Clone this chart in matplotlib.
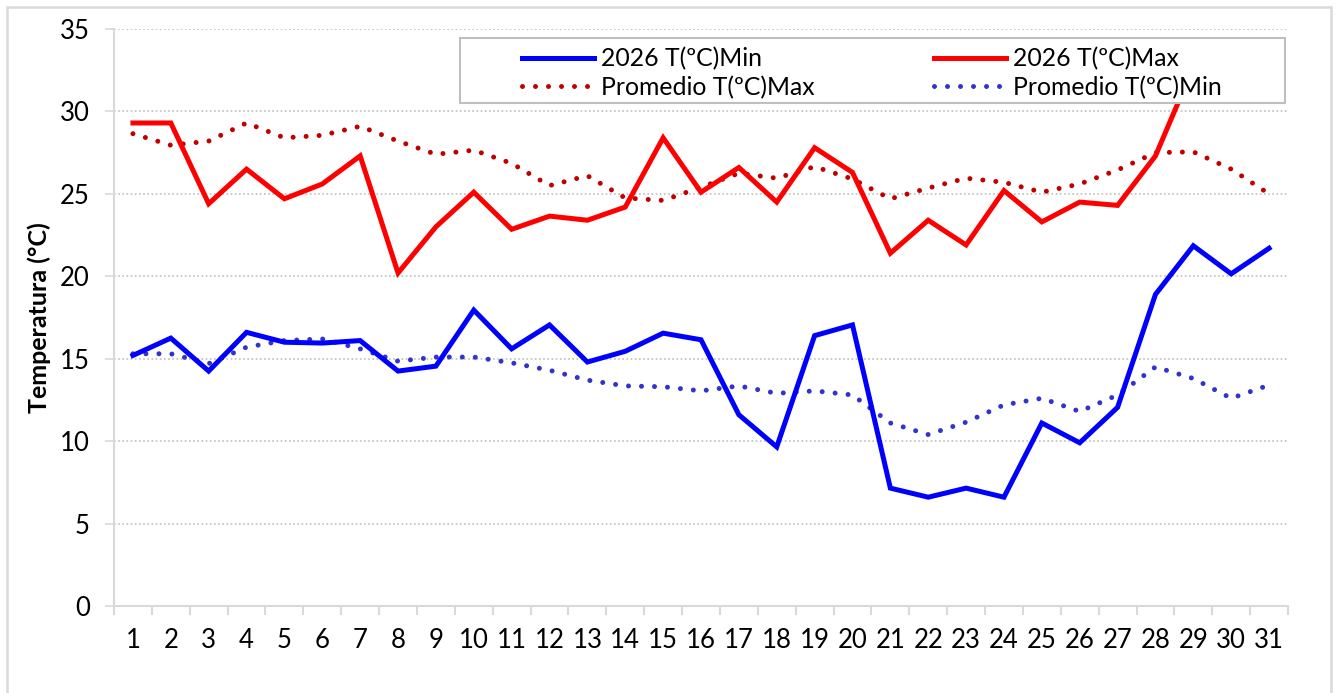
"""
Temperaturas diarias del mes: 2026 vs promedio historico.
Lineas min/max del año y promedios punteados.
"""
import matplotlib
matplotlib.use('Agg')
import matplotlib.pyplot as plt
from matplotlib.patches import Rectangle
from matplotlib.ticker import FixedLocator, NullFormatter

plt.rcParams['font.family'] = ['Lato', 'DejaVu Sans']

# datos
dias = list(range(1, 32))
tmin_2026 = [15.2, 16.25, 14.25, 16.6, 16.0, 15.95, 16.1, 14.25, 14.55, 17.95,
             15.6, 17.05, 14.8, 15.45, 16.55, 16.15, 11.6, 9.65, 16.4, 17.05,
             7.15, 6.6, 7.15, 6.6, 11.1, 9.9, 12.05, 18.9, 21.85, 20.15, 21.7]
tmax_2026 = [29.3, 29.3, 24.4, 26.5, 24.7, 25.6, 27.3, 20.2, 23.0, 25.1,
             22.85, 23.65, 23.4, 24.2, 28.4, 25.1, 26.6, 24.5, 27.8, 26.3,
             21.4, 23.4, 21.9, 25.2, 23.3, 24.5, 24.3, 27.3, 32.7, 32.0, 31.6]
prom_max = [28.65, 27.95, 28.2, 29.3, 28.4, 28.55, 29.1, 28.2, 27.4, 27.65,
            26.85, 25.5, 26.1, 24.75, 24.6, 25.4, 26.25, 25.95, 26.65, 25.9,
            24.7, 25.35, 25.95, 25.7, 25.1, 25.6, 26.45, 27.5, 27.55, 26.5, 25.0]
prom_min = [15.3, 15.3, 14.7, 15.7, 16.1, 16.2, 15.6, 14.85, 15.1, 15.1,
            14.75, 14.3, 13.7, 13.35, 13.3, 13.05, 13.35, 12.9, 13.05, 12.8,
            11.1, 10.4, 11.15, 12.2, 12.6, 11.8, 12.8, 14.5, 13.8, 12.6, 13.4]

GRIS = '#D9D9D9'
FS_TICK = 18.5
FS_LEG = 17.8

fig = plt.figure(figsize=(13.38, 6.93), dpi=100)
ax = fig.add_axes([114/1338, 1-606/693, (1288-114)/1338, (606-29)/693])

dots = (0, (0.001, 2.6))
l_min, = ax.plot(dias, tmin_2026, color='#0000FF', lw=3.6,
                 solid_joinstyle='miter', label='2026 T(ºC)Min', zorder=3)
l_max, = ax.plot(dias, tmax_2026, color='#FF0000', lw=3.6,
                 solid_joinstyle='miter', label='2026 T(ºC)Max', zorder=3)
l_pmax, = ax.plot(dias, prom_max, color='#C00000', lw=3.6, linestyle=dots,
                  dash_capstyle='round', label='Promedio T(ºC)Max', zorder=2)
l_pmin, = ax.plot(dias, prom_min, color='#3333CC', lw=3.6, linestyle=dots,
                  dash_capstyle='round', label='Promedio T(ºC)Min', zorder=2)

# ejes
ax.set_xlim(0.5, 31.5)
ax.set_ylim(0, 35)
ax.set_yticks(range(0, 36, 5))
ax.set_xticks(dias)
ax.xaxis.set_minor_locator(FixedLocator([d + 0.5 for d in range(0, 32)]))
ax.xaxis.set_minor_formatter(NullFormatter())
ax.tick_params(axis='x', which='major', length=0, pad=16, labelsize=FS_TICK)
ax.tick_params(axis='x', which='minor', length=9*0.72, width=1.5, color=GRIS)
ax.tick_params(axis='y', length=9*0.72, width=1.2, color=GRIS, pad=11,
               labelsize=FS_TICK)
ax.grid(True, axis='y', linestyle=(0, (1, 1.5)), color='#BFBFBF', lw=1.2)
ax.set_axisbelow(True)
for s in ['top', 'right']:
    ax.spines[s].set_visible(False)
for s in ['left', 'bottom']:
    ax.spines[s].set_color(GRIS)
    ax.spines[s].set_linewidth(1.5)

ax.set_ylabel('Temperatura (°C)', fontsize=18, fontweight='bold')
ax.yaxis.set_label_coords((51-114)/1174, 0.5)

# caja de leyenda (opaca, tapa las lineas)
fig.patches.append(Rectangle((460/1338, 1-103/693), (1285-460)/1338, 65/693,
                             transform=fig.transFigure, facecolor='white',
                             edgecolor='#BFBFBF', lw=1.5, zorder=2))
fig.legend([l_min, l_pmax, l_max, l_pmin],
           [h.get_label() for h in [l_min, l_pmax, l_max, l_pmin]],
           ncol=2, loc='upper left', mode='expand',
           bbox_to_anchor=(522/1338, 1-103/693, (1222-522)/1338, 56/693),
           bbox_transform=fig.transFigure, frameon=False, borderpad=0,
           borderaxespad=0, handlelength=2.9, handletextpad=0.3,
           labelspacing=0.22, fontsize=FS_LEG)

# borde exterior del grafico
fig.patches.append(Rectangle((7/1338, -0.05), (1331-7)/1338, 1-7/693+0.05,
                             transform=fig.transFigure, facecolor='none',
                             edgecolor=GRIS, lw=1.8, zorder=1))

fig.savefig('out.png', dpi=100)
plt.close(fig)
